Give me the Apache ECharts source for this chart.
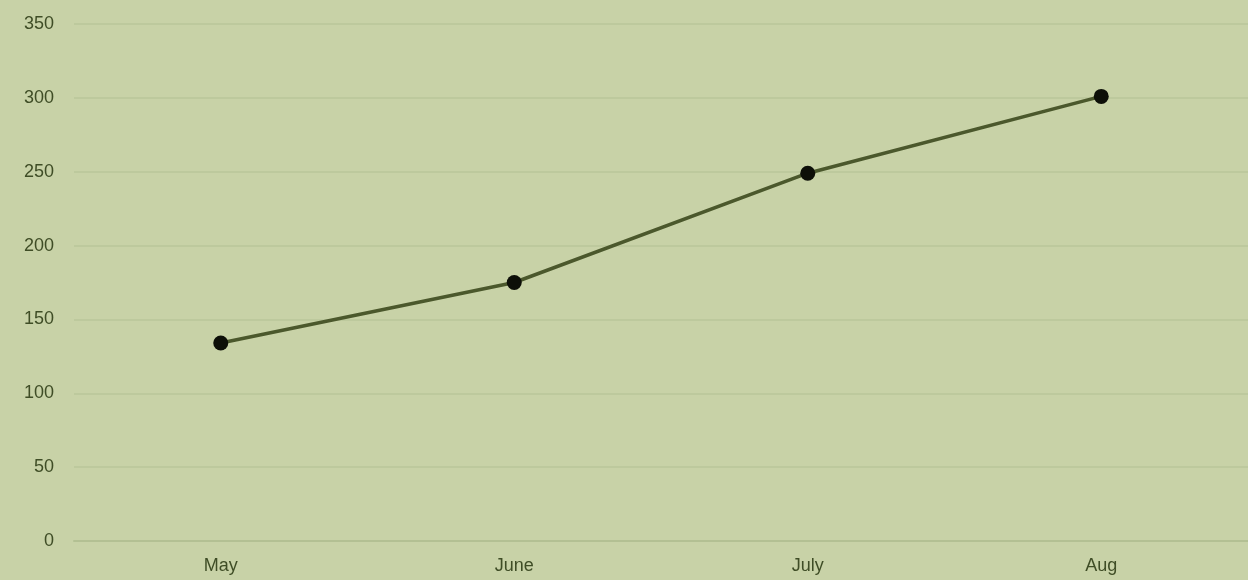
<!DOCTYPE html>
<html><head><meta charset="utf-8">
<script src="https://cdn.jsdelivr.net/npm/echarts@6/dist/echarts.min.js"></script>
<style>html,body{margin:0;padding:0;background:#c8d2a7;}#c{width:1248px;height:580px;}</style>
</head><body><div id="c"></div>
<script>
const categories = ['May', 'June', 'July', 'Aug'];
const values = [134, 175, 249, 301];
const yTicks = { min: 0, max: 350, interval: 50 };

const chart = echarts.init(document.getElementById('c'));
chart.setOption({
  backgroundColor: '#c8d2a7',
  animation: false,
  grid: { left: 74, right: -2, top: 24, bottom: 39 },
  xAxis: {
    type: 'category', data: categories, boundaryGap: true,
    axisLine: { show: true, lineStyle: { color: '#b3c093', width: 2 } },
    axisTick: { show: false },
    axisLabel: { color: '#3f4d26', fontSize: 18, fontFamily: 'Liberation Sans, Arial', margin: 16 }
  },
  yAxis: {
    type: 'value', min: yTicks.min, max: yTicks.max, interval: yTicks.interval,
    axisLine: { show: false }, axisTick: { show: false },
    splitLine: { lineStyle: { color: '#bdc99d', width: 2 } },
    axisLabel: { color: '#3f4d26', fontSize: 18, fontFamily: 'Liberation Sans, Arial', margin: 20 }
  },
  series: [{
    type: 'line', data: values,
    lineStyle: { color: '#4b582c', width: 3.5 },
    symbol: 'circle', symbolSize: 15,
    itemStyle: { color: '#0d0f08' }
  }]
});
</script></body></html>
